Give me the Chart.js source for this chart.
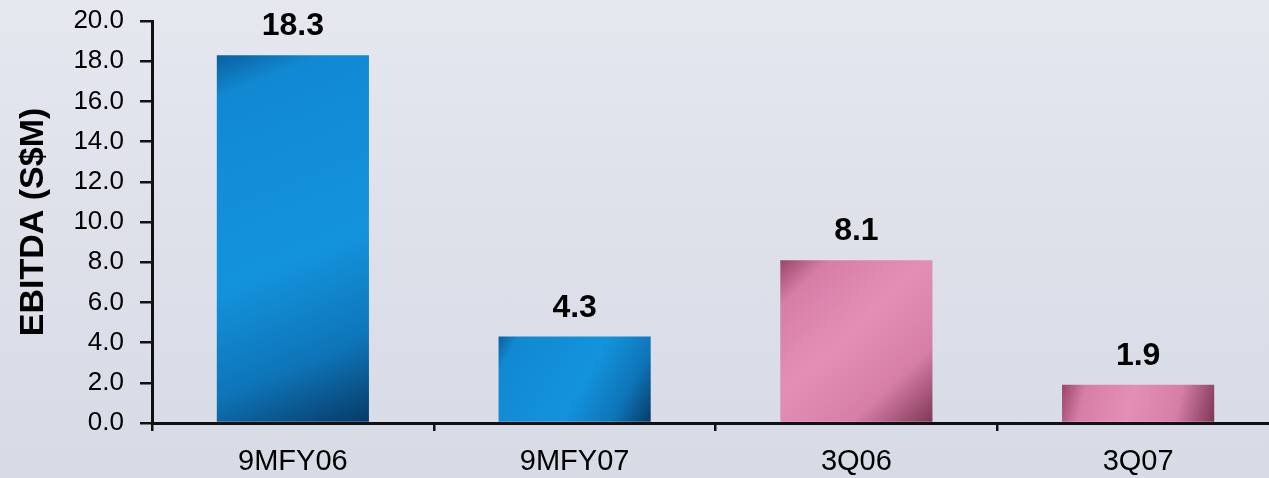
<!DOCTYPE html>
<html>
<head>
<meta charset="utf-8">
<script src="https://cdn.jsdelivr.net/npm/chart.js@4/dist/chart.umd.min.js"></script>
<style>
  html, body { margin: 0; padding: 0; overflow: hidden; }
  body {
    width: 1269px; height: 478px;
    background: linear-gradient(to bottom, #e6e8f0 0%, #dee1ea 45%, #d7dbe6 100%);
  }
  #wrap { width: 1279px; height: 478px; }
</style>
</head>
<body>
<div id="wrap"><canvas id="myChart"></canvas></div>
<script>
const categories = ['9MFY06', '9MFY07', '3Q06', '3Q07'];
const ebitda = [18.3, 4.3, 8.1, 1.9];
const yTicks = [0, 2, 4, 6, 8, 10, 12, 14, 16, 18, 20];

document.addEventListener('DOMContentLoaded', function() {
  const ctx = document.getElementById('myChart');
  const FONT = "'Liberation Sans', Arial, sans-serif";
  const BAR_PCT = 0.54;

  // diagonal shading per bar, blue for the 9-month figures, pink for the quarters
  function barFill(context) {
    const chart = context.chart;
    const i = context.dataIndex;
    const blue = i < 2;
    if (!chart.chartArea) return blue ? '#1088d0' : '#e08ab2';
    const xs = chart.scales.x, ys = chart.scales.y;
    const cx = xs.getPixelForValue(i);
    const half = xs.width / categories.length * BAR_PCT / 2;
    const top = ys.getPixelForValue(ebitda[i]);
    const base = ys.getPixelForValue(0);
    const g = chart.ctx.createLinearGradient(cx - half, top, cx + half, base);
    if (blue) {
      g.addColorStop(0, '#0a5f9c');
      g.addColorStop(0.1, '#1189d2');
      g.addColorStop(0.55, '#1393dc');
      g.addColorStop(0.8, '#0e74b8');
      g.addColorStop(1, '#073a66');
    } else {
      g.addColorStop(0, '#9a4568');
      g.addColorStop(0.15, '#d77ea7');
      g.addColorStop(0.45, '#e48eb6');
      g.addColorStop(0.75, '#d67ea6');
      g.addColorStop(1, '#7e3656');
    }
    return g;
  }

  const valueLabels = {
    id: 'valueLabels',
    afterDatasetsDraw(chart) {
      const c = chart.ctx;
      const meta = chart.getDatasetMeta(0);
      c.save();
      c.font = 'bold 32px ' + FONT;
      c.fillStyle = '#000';
      c.textAlign = 'center';
      c.textBaseline = 'alphabetic';
      meta.data.forEach(function(bar, i) {
        c.fillText(ebitda[i].toFixed(1), bar.x, bar.y - 20);
      });
      c.restore();
    }
  };

  new Chart(ctx, {
    type: 'bar',
    data: {
      labels: categories,
      datasets: [{
        label: 'EBITDA',
        data: ebitda,
        backgroundColor: barFill,
        borderWidth: 0,
        barPercentage: BAR_PCT,
        categoryPercentage: 1
      }]
    },
    options: {
      responsive: true,
      maintainAspectRatio: false,
      animation: false,
      layout: { padding: { top: 21, right: 0, bottom: 0, left: 0 } },
      plugins: {
        legend: { display: false },
        tooltip: { enabled: false }
      },
      scales: {
        x: {
          afterFit: function(scale) {
            scale.height = 55;
            scale.paddingLeft = 0;
            scale.paddingRight = 0;
          },
          grid: {
            offset: true,
            drawOnChartArea: false,
            drawTicks: true,
            tickLength: 8,
            color: '#111',
            lineWidth: 2.5
          },
          border: { color: '#111', width: 3 },
          ticks: {
            color: '#000',
            padding: 14,
            font: { family: FONT, size: 29 }
          }
        },
        y: {
          min: 0,
          max: 20,
          afterFit: function(scale) {
            scale.width = 152;
            scale.paddingTop = 0;
            scale.paddingBottom = 0;
          },
          afterBuildTicks: function(scale) {
            scale.ticks = yTicks.map(function(v) { return { value: v }; });
          },
          grid: {
            drawOnChartArea: false,
            tickLength: 12,
            color: '#111',
            lineWidth: 2.5
          },
          border: { color: '#111', width: 3 },
          ticks: {
            color: '#000',
            padding: 16,
            font: { family: FONT, size: 26 },
            callback: function(v) { return Number(v).toFixed(1); }
          },
          title: {
            display: true,
            text: 'EBITDA (S$M)',
            color: '#000',
            padding: { top: 17, bottom: 0 },
            font: { family: FONT, size: 34, weight: 'bold', lineHeight: 1 }
          }
        }
      }
    },
    plugins: [valueLabels]
  });
});
</script>
</body>
</html>
